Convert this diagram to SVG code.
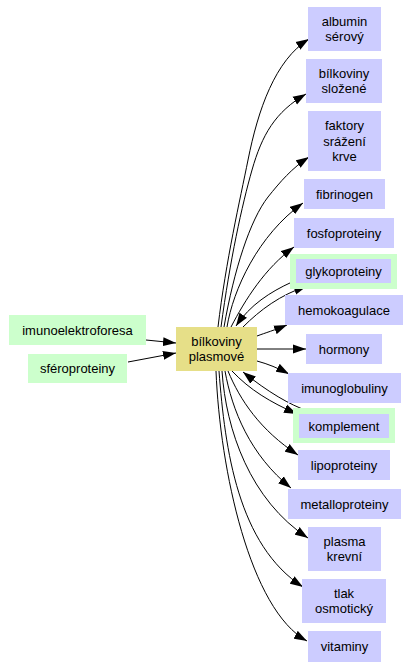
<svg xmlns="http://www.w3.org/2000/svg" width="410" height="668" viewBox="0 0 410 668">
<style>
.p{fill:#ccccff}
.g{fill:#ccffcc}
.c{fill:#e6df88}
text{font-family:"Liberation Sans",Arial,sans-serif;font-size:13px;fill:#000;text-anchor:middle}
.e{fill:none;stroke:#000;stroke-width:1;marker-end:url(#ah)}
</style>
<defs>
<marker id="ah" markerUnits="userSpaceOnUse" markerWidth="14" markerHeight="10" refX="13" refY="4.5" orient="auto" viewBox="0 0 14 9">
<path d="M0,0 L13,4.5 L0,9 z" fill="#000"/>
</marker>
</defs>
<rect width="410" height="668" fill="#fff"/>
<g id="connectors">
<path class="e" d="M146,340 L176,343"/>
<path class="e" d="M128,362 L176,353"/>
<path class="e" d="M218,327 C226,260 240,200 248,160 C258,110 275,60 309,39"/>
<path class="e" d="M221,327 C230,260 242,205 252,170 C262,135 275,112 306,94"/>
<path class="e" d="M224,327 C234,270 250,220 268,197 C280,182 292,168 309,157"/>
<path class="e" d="M227,327 C233,290 258,235 303,203"/>
<path class="e" d="M231,327 C245,300 265,268 294,247"/>
<path class="e" d="M243,327 C260,310 280,295 307,286"/>
<path class="e" d="M292,282 C270,292 250,305 236,326"/>
<path class="e" d="M257,336 C265,333 275,330 287,325"/>
<path class="e" d="M257,349 L306,349"/>
<path class="e" d="M257,361 C268,364 278,368 289,374"/>
<path class="e" d="M232,371 C250,390 270,402 297,414"/>
<path class="e" d="M308,411 C290,405 268,392 243,372"/>
<path class="e" d="M228,371 C240,400 260,430 298,455"/>
<path class="e" d="M225,371 C232,410 250,455 291,488"/>
<path class="e" d="M222,371 C226,430 250,500 308,538"/>
<path class="e" d="M219,371 C225,450 238,545 303,587"/>
<path class="e" d="M216,371 C220,470 250,610 307,641"/>
</g>
<g id="imunoelektroforesa"><rect class="g" x="9" y="315" width="137" height="30"/><text x="77.5" y="334.5">imunoelektroforesa</text></g>
<g id="sferoproteiny"><rect class="g" x="28" y="354" width="99" height="29"/><text x="77.5" y="373">sféroproteiny</text></g>
<g id="bilkoviny_plasmove"><rect class="c" x="176" y="327" width="81" height="44"/><text x="216.5" y="345.5">bílkoviny</text><text x="216.5" y="360.5">plasmové</text></g>
<g id="albumin_serovy"><rect class="p" x="308" y="7" width="73" height="44"/><text x="344.5" y="25.5">albumin</text><text x="344.5" y="40.5">sérový</text></g>
<g id="bilkoviny_slozene"><rect class="p" x="306" y="59" width="76" height="44"/><text x="344" y="77.5">bílkoviny</text><text x="344" y="92.5">složené</text></g>
<g id="faktory_srazeni_krve"><rect class="p" x="308" y="111" width="73" height="60"/><text x="344.5" y="130">faktory</text><text x="344.5" y="145.5">srážení</text><text x="344.5" y="160.5">krve</text></g>
<g id="fibrinogen"><rect class="p" x="304" y="179" width="81" height="30"/><text x="344.5" y="198.5">fibrinogen</text></g>
<g id="fosfoproteiny"><rect class="p" x="294" y="218" width="100" height="30"/><text x="344" y="237.5">fosfoproteiny</text></g>
<g id="glykoproteiny"><rect class="g" x="290" y="254" width="107" height="35"/><rect class="p" x="296" y="259" width="95" height="24"/><text x="343.5" y="275.5">glykoproteiny</text></g>
<g id="hemokoagulace"><rect class="p" x="285" y="295" width="118" height="30"/><text x="344" y="314.5">hemokoagulace</text></g>
<g id="hormony"><rect class="p" x="306" y="334" width="76" height="30"/><text x="344" y="353.5">hormony</text></g>
<g id="imunoglobuliny"><rect class="p" x="288" y="373" width="113" height="30"/><text x="344.5" y="392.5">imunoglobuliny</text></g>
<g id="komplement"><rect class="g" x="293" y="408" width="102" height="35"/><rect class="p" x="299" y="414" width="90" height="24"/><text x="344" y="430.5">komplement</text></g>
<g id="lipoproteiny"><rect class="p" x="298" y="450" width="92" height="30"/><text x="344" y="469.5">lipoproteiny</text></g>
<g id="metalloproteiny"><rect class="p" x="288" y="489" width="113" height="30"/><text x="344.5" y="508.5">metalloproteiny</text></g>
<g id="plasma_krevni"><rect class="p" x="308" y="527" width="73" height="44"/><text x="344.5" y="545.5">plasma</text><text x="344.5" y="560.5">krevní</text></g>
<g id="tlak_osmoticky"><rect class="p" x="302" y="579" width="84" height="44"/><text x="344" y="597.5">tlak</text><text x="344" y="612.5">osmotický</text></g>
<g id="vitaminy"><rect class="p" x="308" y="631" width="73" height="31"/><text x="344.5" y="650.5">vitaminy</text></g>
</svg>
